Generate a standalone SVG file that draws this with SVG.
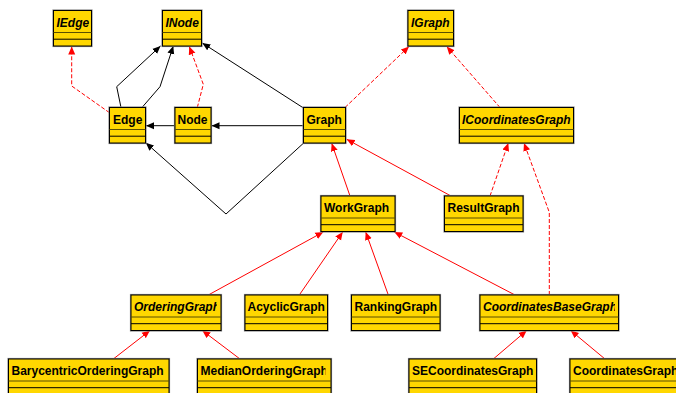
<svg xmlns="http://www.w3.org/2000/svg" width="676" height="393" viewBox="0 0 676 393">
  <style>
    .box { fill: #FFD700; stroke: #000; stroke-width: 1; }
    .halo { fill: none; stroke: #8a8a8a; stroke-width: 2.2; }
    .div1 { stroke: #5a4f00; stroke-width: 1; }
    .div2 { stroke: #000; stroke-width: 1; }
    .name { font-family: "Liberation Sans", Arial, sans-serif; font-size: 12px; font-weight: bold; fill: #000; }
    .abs { font-style: italic; }
    .assoc { fill: none; stroke: #000; stroke-width: 1; marker-end: url(#arrowBlack); }
    .inherit { fill: none; stroke: #FF0000; stroke-width: 1; marker-end: url(#arrowRed); }
    .realize { fill: none; stroke: #FF0000; stroke-width: 1; stroke-dasharray: 4 2; marker-end: url(#arrowRed); }
  </style>
  <defs>
    <marker id="arrowBlack" markerWidth="9" markerHeight="8" refX="8" refY="4" orient="auto" markerUnits="userSpaceOnUse">
      <path d="M0,0.5 L8,4 L0,7.5 z" fill="#000"/>
    </marker>
    <marker id="arrowRed" markerWidth="9" markerHeight="8" refX="8" refY="4" orient="auto" markerUnits="userSpaceOnUse">
      <path d="M0,0.5 L8,4 L0,7.5 z" fill="#FF0000"/>
    </marker>
  </defs>
  <rect width="676" height="393" fill="#fff"/>

  <!-- connectors -->
  <g id="connectors">
    <!-- associations -->
    <polyline class="assoc" points="121,107.5 116.7,86.7 160.5,46"/>
    <polyline class="assoc" points="142,107.5 160,86.7 173.3,46"/>
    <polyline class="assoc" points="175,125.7 146,125.7"/>
    <polyline class="assoc" points="303.5,125.7 211.5,125.7"/>
    <polyline class="assoc" points="303.5,108 202.3,43"/>
    <polyline class="assoc" points="304,142.7 226,214 145.8,142.8"/>
    <!-- realizations -->
    <polyline class="realize" points="109.5,112.7 71.7,86 71.7,46.5"/>
    <polyline class="realize" points="197.3,107.5 203.3,84.3 189.3,46.5"/>
    <polyline class="realize" points="345,107.5 409,46.5"/>
    <polyline class="realize" points="500,107.5 446.7,46.5"/>
    <polyline class="realize" points="490,196 508.3,143"/>
    <polyline class="realize" points="549.3,295 549.3,212.3 524,143"/>
    <!-- generalizations -->
    <polyline class="inherit" points="350,196 331.7,143.3"/>
    <polyline class="inherit" points="451,196 346.7,139.3"/>
    <polyline class="inherit" points="208.3,295 323.3,232"/>
    <polyline class="inherit" points="299.3,295 342.7,232"/>
    <polyline class="inherit" points="388.3,295 365.7,232"/>
    <polyline class="inherit" points="515,295 394.3,232"/>
    <polyline class="inherit" points="113.3,359 150,330.5"/>
    <polyline class="inherit" points="240,359 202.3,330.5"/>
    <polyline class="inherit" points="493.3,359 526.7,330.5"/>
    <polyline class="inherit" points="605,359 570.7,330.5"/>
  </g>

  <!-- classes: name compartment text is clipped to the box interior -->
  <g id="IEdge">
    <rect class="halo" x="53.5" y="10.5" width="38" height="35.5"/>
    <rect class="box" x="53.5" y="10.5" width="38" height="35.5"/>
    <line class="div1" x1="53.5" y1="32.5" x2="91.5" y2="32.5"/>
    <line class="div2" x1="53.5" y1="39.2" x2="91.5" y2="39.2"/>
    <svg x="53.5" y="10.5" width="36" height="22"><text class="name abs" x="3" y="16">IEdge</text></svg>
  </g>
  <g id="INode">
    <rect class="halo" x="162.5" y="10.5" width="39" height="35.5"/>
    <rect class="box" x="162.5" y="10.5" width="39" height="35.5"/>
    <line class="div1" x1="162.5" y1="32.5" x2="201.5" y2="32.5"/>
    <line class="div2" x1="162.5" y1="39.2" x2="201.5" y2="39.2"/>
    <svg x="162.5" y="10.5" width="37" height="22"><text class="name abs" x="3" y="16">INode</text></svg>
  </g>
  <g id="IGraph">
    <rect class="halo" x="408" y="10.5" width="45.5" height="35.5"/>
    <rect class="box" x="408" y="10.5" width="45.5" height="35.5"/>
    <line class="div1" x1="408" y1="32.5" x2="453.5" y2="32.5"/>
    <line class="div2" x1="408" y1="39.2" x2="453.5" y2="39.2"/>
    <svg x="408" y="10.5" width="44" height="22"><text class="name abs" x="3" y="16">IGraph</text></svg>
  </g>
  <g id="Edge">
    <rect class="halo" x="109.5" y="107.5" width="36" height="35.5"/>
    <rect class="box" x="109.5" y="107.5" width="36" height="35.5"/>
    <line class="div1" x1="109.5" y1="129.5" x2="145.5" y2="129.5"/>
    <line class="div2" x1="109.5" y1="136.2" x2="145.5" y2="136.2"/>
    <svg x="109.5" y="107.5" width="34" height="22"><text class="name" x="3.5" y="16">Edge</text></svg>
  </g>
  <g id="Node">
    <rect class="halo" x="175" y="107.5" width="36" height="35.5"/>
    <rect class="box" x="175" y="107.5" width="36" height="35.5"/>
    <line class="div1" x1="175" y1="129.5" x2="211" y2="129.5"/>
    <line class="div2" x1="175" y1="136.2" x2="211" y2="136.2"/>
    <svg x="175" y="107.5" width="34" height="22"><text class="name" x="2.5" y="16">Node</text></svg>
  </g>
  <g id="Graph">
    <rect class="halo" x="303.5" y="107.5" width="42" height="35.5"/>
    <rect class="box" x="303.5" y="107.5" width="42" height="35.5"/>
    <line class="div1" x1="303.5" y1="129.5" x2="345.5" y2="129.5"/>
    <line class="div2" x1="303.5" y1="136.2" x2="345.5" y2="136.2"/>
    <svg x="303.5" y="107.5" width="40" height="22"><text class="name" x="3" y="16">Graph</text></svg>
  </g>
  <g id="ICoordinatesGraph">
    <rect class="halo" x="459.5" y="107.5" width="114" height="35.5"/>
    <rect class="box" x="459.5" y="107.5" width="114" height="35.5"/>
    <line class="div1" x1="459.5" y1="129.5" x2="573.5" y2="129.5"/>
    <line class="div2" x1="459.5" y1="136.2" x2="573.5" y2="136.2"/>
    <svg x="459.5" y="107.5" width="112" height="22"><text class="name abs" x="2.5" y="16">ICoordinatesGraph</text></svg>
  </g>
  <g id="WorkGraph">
    <rect class="halo" x="321" y="196" width="74" height="35.5"/>
    <rect class="box" x="321" y="196" width="74" height="35.5"/>
    <line class="div1" x1="321" y1="218" x2="395" y2="218"/>
    <line class="div2" x1="321" y1="224.7" x2="395" y2="224.7"/>
    <svg x="321" y="196" width="72" height="22"><text class="name" x="3" y="16">WorkGraph</text></svg>
  </g>
  <g id="ResultGraph">
    <rect class="halo" x="444.5" y="196" width="78.5" height="35.5"/>
    <rect class="box" x="444.5" y="196" width="78.5" height="35.5"/>
    <line class="div1" x1="444.5" y1="218" x2="523" y2="218"/>
    <line class="div2" x1="444.5" y1="224.7" x2="523" y2="224.7"/>
    <svg x="444.5" y="196" width="77" height="22"><text class="name" x="3" y="16">ResultGraph</text></svg>
  </g>
  <g id="OrderingGraph">
    <rect class="halo" x="131" y="295" width="90" height="35.5"/>
    <rect class="box" x="131" y="295" width="90" height="35.5"/>
    <line class="div1" x1="131" y1="317" x2="221" y2="317"/>
    <line class="div2" x1="131" y1="323.7" x2="221" y2="323.7"/>
    <svg x="131" y="295" width="86" height="22"><text class="name abs" x="3" y="16">OrderingGraph</text></svg>
  </g>
  <g id="AcyclicGraph">
    <rect class="halo" x="245" y="295" width="82.5" height="35.5"/>
    <rect class="box" x="245" y="295" width="82.5" height="35.5"/>
    <line class="div1" x1="245" y1="317" x2="327.5" y2="317"/>
    <line class="div2" x1="245" y1="323.7" x2="327.5" y2="323.7"/>
    <svg x="245" y="295" width="82" height="22"><text class="name" x="2.5" y="16">AcyclicGraph</text></svg>
  </g>
  <g id="RankingGraph">
    <rect class="halo" x="351.5" y="295" width="88.5" height="35.5"/>
    <rect class="box" x="351.5" y="295" width="88.5" height="35.5"/>
    <line class="div1" x1="351.5" y1="317" x2="440" y2="317"/>
    <line class="div2" x1="351.5" y1="323.7" x2="440" y2="323.7"/>
    <svg x="351.5" y="295" width="87" height="22"><text class="name" x="3" y="16">RankingGraph</text></svg>
  </g>
  <g id="CoordinatesBaseGraph">
    <rect class="halo" x="480" y="295" width="138.5" height="35.5"/>
    <rect class="box" x="480" y="295" width="138.5" height="35.5"/>
    <line class="div1" x1="480" y1="317" x2="618.5" y2="317"/>
    <line class="div2" x1="480" y1="323.7" x2="618.5" y2="323.7"/>
    <svg x="480" y="295" width="135" height="22"><text class="name abs" x="3" y="16">CoordinatesBaseGraph</text></svg>
  </g>
  <g id="BarycentricOrderingGraph">
    <rect class="halo" x="8.5" y="359" width="160.5" height="35.5"/>
    <rect class="box" x="8.5" y="359" width="160.5" height="35.5"/>
    <line class="div1" x1="8.5" y1="381" x2="169" y2="381"/>
    <line class="div2" x1="8.5" y1="387.7" x2="169" y2="387.7"/>
    <svg x="8.5" y="359" width="159" height="22"><text class="name" x="3" y="16">BarycentricOrderingGraph</text></svg>
  </g>
  <g id="MedianOrderingGraph">
    <rect class="halo" x="197.5" y="359" width="133.5" height="35.5"/>
    <rect class="box" x="197.5" y="359" width="133.5" height="35.5"/>
    <line class="div1" x1="197.5" y1="381" x2="331" y2="381"/>
    <line class="div2" x1="197.5" y1="387.7" x2="331" y2="387.7"/>
    <svg x="197.5" y="359" width="128" height="22"><text class="name" x="3" y="16">MedianOrderingGraph</text></svg>
  </g>
  <g id="SECoordinatesGraph">
    <rect class="halo" x="409" y="359" width="127.5" height="35.5"/>
    <rect class="box" x="409" y="359" width="127.5" height="35.5"/>
    <line class="div1" x1="409" y1="381" x2="536.5" y2="381"/>
    <line class="div2" x1="409" y1="387.7" x2="536.5" y2="387.7"/>
    <svg x="409" y="359" width="126" height="22"><text class="name" x="3" y="16">SECoordinatesGraph</text></svg>
  </g>
  <g id="CoordinatesGraph">
    <rect class="halo" x="570" y="359" width="120" height="35.5"/>
    <rect class="box" x="570" y="359" width="120" height="35.5"/>
    <line class="div1" x1="570" y1="381" x2="690" y2="381"/>
    <line class="div2" x1="570" y1="387.7" x2="690" y2="387.7"/>
    <svg x="570" y="359" width="116" height="22"><text class="name" x="3" y="16">CoordinatesGraph</text></svg>
  </g>
</svg>
